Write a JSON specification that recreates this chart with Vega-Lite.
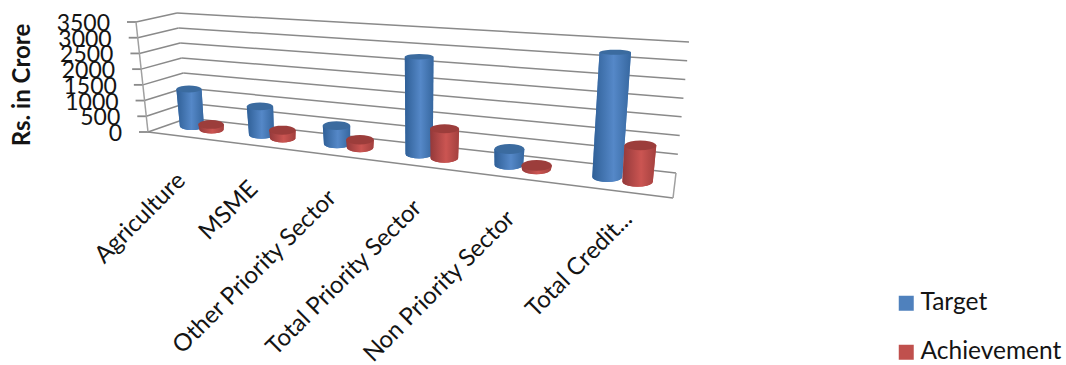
{
  "$schema": "https://vega.github.io/schema/vega-lite/v6.json",
  "width": 1066,
  "height": 365,
  "padding": 0,
  "autosize": {"type": "none"},
  "background": "white",
  "config": {"view": {"stroke": null}, "text": {"font": "Lato", "color": "#141414"}},
  "datasets": {
    "levels": [{"v": 0}, {"v": 500}, {"v": 1000}, {"v": 1500}, {"v": 2000}, {"v": 2500}, {"v": 3000}, {"v": 3500}],
    "credit": [
      {"cat": "Agriculture", "label": "Agriculture", "series": "Target", "value": 1190},
      {"cat": "Agriculture", "label": "Agriculture", "series": "Achievement", "value": 160},
      {"cat": "MSME", "label": "MSME", "series": "Target", "value": 880},
      {"cat": "MSME", "label": "MSME", "series": "Achievement", "value": 250},
      {"cat": "Other Priority Sector", "label": "Other Priority Sector", "series": "Target", "value": 550},
      {"cat": "Other Priority Sector", "label": "Other Priority Sector", "series": "Achievement", "value": 240},
      {"cat": "Total Priority Sector", "label": "Total Priority Sector", "series": "Target", "value": 2830},
      {"cat": "Total Priority Sector", "label": "Total Priority Sector", "series": "Achievement", "value": 845},
      {"cat": "Non Priority Sector", "label": "Non Priority Sector", "series": "Target", "value": 450},
      {"cat": "Non Priority Sector", "label": "Non Priority Sector", "series": "Achievement", "value": 110},
      {"cat": "Total Credit Deployment", "label": "Total Credit...", "series": "Target", "value": 3370},
      {"cat": "Total Credit Deployment", "label": "Total Credit...", "series": "Achievement", "value": 970}
    ]
  },
  "layer": [
    {
      "data": {"name": "levels"},
      "transform": [
        {"calculate": "datum.v / 3500", "as": "f"},
        {"calculate": "148 - 12 * datum.f", "as": "fx"},
        {"calculate": "132 - 110 * datum.f", "as": "fy"},
        {"calculate": "188 - 11 * datum.f", "as": "lx"},
        {"calculate": "118 - 105 * datum.f", "as": "ly"},
        {"calculate": "676 + 13 * datum.f", "as": "rx"},
        {"calculate": "173 - 131 * datum.f", "as": "ry"},
        {"calculate": "datum.fx - 9", "as": "tx"},
        {"calculate": "datum.fx - 26", "as": "labx"},
        {"calculate": "datum.fy + 2", "as": "laby"}
      ],
      "encoding": {
        "x": {"type": "quantitative", "scale": {"domain": [0, 1066]}, "axis": null},
        "y": {"type": "quantitative", "scale": {"domain": [365, 0]}, "axis": null}
      },
      "layer": [
        {
          "mark": {"type": "rule", "stroke": "#8a8a8a", "strokeWidth": 1.5},
          "encoding": {
            "x": {"field": "fx"}, "y": {"field": "fy"},
            "x2": {"field": "lx"}, "y2": {"field": "ly"}
          }
        },
        {
          "mark": {"type": "rule", "stroke": "#8a8a8a", "strokeWidth": 1.5},
          "encoding": {
            "x": {"field": "lx"}, "y": {"field": "ly"},
            "x2": {"field": "rx"}, "y2": {"field": "ry"}
          }
        },
        {
          "mark": {"type": "rule", "stroke": "#8a8a8a", "strokeWidth": 1.8},
          "encoding": {
            "x": {"field": "tx"}, "y": {"field": "fy"},
            "x2": {"field": "fx"}, "y2": {"field": "fy"}
          }
        },
        {
          "transform": [{"filter": "datum.v === 3500"}],
          "mark": {"type": "rule", "stroke": "#a0a0a0", "strokeWidth": 1.5},
          "encoding": {
            "x": {"field": "fx"}, "y": {"field": "fy"},
            "x2": {"datum": 148}, "y2": {"datum": 132}
          }
        },
        {
          "transform": [{"filter": "datum.v === 0"}],
          "layer": [
            {
              "mark": {"type": "rule", "stroke": "#8a8a8a", "strokeWidth": 1.5},
              "encoding": {
                "x": {"field": "fx"}, "y": {"field": "fy"},
                "x2": {"datum": 673}, "y2": {"datum": 198}
              }
            },
            {
              "mark": {"type": "rule", "stroke": "#a0a0a0", "strokeWidth": 1.5},
              "encoding": {
                "x": {"datum": 673}, "y": {"datum": 198},
                "x2": {"datum": 676}, "y2": {"datum": 173}
              }
            }
          ]
        },
        {
          "mark": {"type": "text", "align": "right", "baseline": "middle", "fontSize": 23},
          "encoding": {
            "x": {"field": "labx"}, "y": {"field": "laby"},
            "text": {"field": "v", "type": "nominal"}
          }
        }
      ]
    },
    {
      "data": {"name": "credit"},
      "transform": [
        {"calculate": "indexof(['Agriculture','MSME','Other Priority Sector','Total Priority Sector','Non Priority Sector','Total Credit Deployment'], datum.cat)", "as": "i"},
        {"calculate": "datum.series === 'Target' ? 0 : 1", "as": "s"},
        {"calculate": "(datum.i + 0.3 + 0.29 * datum.s) / 6", "as": "u"},
        {"calculate": "datum.u / (datum.u + 1.3 * (1 - datum.u))", "as": "p"},
        {"calculate": "172 + 510 * datum.p", "as": "xb"},
        {"calculate": "126 + 0.1226 * (datum.xb - 191) + datum.s", "as": "yb"},
        {"calculate": "datum.value * (108 + (datum.xb - 171) / 505 * 25) / 3500", "as": "h"},
        {"calculate": "datum.yb - datum.h", "as": "yt"},
        {"calculate": "datum.xb + (datum.xb - 419) * datum.h * 0.00034", "as": "xt"},
        {"calculate": "(24 + (datum.xb - 191) * 0.0144) / 2", "as": "rb"},
        {"calculate": "datum.rb * 1.05", "as": "rt"},
        {"calculate": "2.5 + (datum.yt - 50) * 0.025", "as": "capry"},
        {"calculate": "4 + (datum.xb - 191) * 0.0024", "as": "basery"}
      ],
      "encoding": {
        "x": {"type": "quantitative", "stack": null, "scale": {"domain": [0, 1066]}, "axis": null},
        "y": {"type": "quantitative", "stack": null, "scale": {"domain": [365, 0]}, "axis": null}
      },
      "layer": [
        {
          "transform": [
            {"calculate": "[-1, 0, 0.3, 0.6, 0.8, 0.95, 1]", "as": "t"},
            {"flatten": ["t"]},
            {"calculate": "datum.t < 0 ? datum.yt : datum.yb + datum.basery * datum.t", "as": "py"},
            {"calculate": "datum.t < 0 ? datum.rt : datum.rb * sqrt(1 - datum.t * datum.t)", "as": "half"},
            {"calculate": "datum.t < 0 ? datum.xt : datum.xb", "as": "c"},
            {"calculate": "datum.c - datum.half", "as": "x0"},
            {"calculate": "datum.c + datum.half", "as": "x1"}
          ],
          "layer": [
            {
              "mark": {"type": "area", "orient": "horizontal"},
              "encoding": {
                "x": {"field": "x0"}, "x2": {"field": "x1"}, "y": {"field": "py"},
                "detail": {"field": "cat"},
                "color": {
                  "field": "series", "type": "nominal",
                  "scale": {"domain": ["Target", "Achievement"], "range": ["#4f81bd", "#c0504d"]},
                  "legend": {
                    "title": null, "orient": "none", "legendX": 894, "legendY": 291,
                    "symbolType": "square", "symbolSize": 225, "symbolStrokeWidth": 0,
                    "labelFont": "Lato", "labelFontSize": 24.5, "labelColor": "#141414",
                    "labelOffset": 2, "rowPadding": 24
                  }
                }
              }
            },
            {
              "transform": [{"filter": "datum.s === 0"}],
              "mark": {
                "type": "area", "orient": "horizontal",
                "fill": {
                  "gradient": "linear", "x1": 0, "x2": 1, "y1": 0, "y2": 0,
                  "stops": [
                    {"offset": 0, "color": "#2f5f96"},
                    {"offset": 0.55, "color": "#5588c8"},
                    {"offset": 1, "color": "#36679f"}
                  ]
                }
              },
              "encoding": {
                "x": {"field": "x0"}, "x2": {"field": "x1"}, "y": {"field": "py"},
                "detail": {"field": "cat"}
              }
            },
            {
              "transform": [{"filter": "datum.s === 1"}],
              "mark": {
                "type": "area", "orient": "horizontal",
                "fill": {
                  "gradient": "linear", "x1": 0, "x2": 1, "y1": 0, "y2": 0,
                  "stops": [
                    {"offset": 0, "color": "#93393a"},
                    {"offset": 0.55, "color": "#cb5552"},
                    {"offset": 1, "color": "#a2403e"}
                  ]
                }
              },
              "encoding": {
                "x": {"field": "x0"}, "x2": {"field": "x1"}, "y": {"field": "py"},
                "detail": {"field": "cat"}
              }
            }
          ]
        },
        {
          "transform": [
            {"calculate": "[-1, -0.95, -0.8, -0.6, -0.3, 0, 0.3, 0.6, 0.8, 0.95, 1]", "as": "t"},
            {"flatten": ["t"]},
            {"calculate": "datum.yt + datum.capry * datum.t", "as": "py"},
            {"calculate": "datum.rt * sqrt(1 - datum.t * datum.t)", "as": "half"},
            {"calculate": "datum.xt - datum.half", "as": "x0"},
            {"calculate": "datum.xt + datum.half", "as": "x1"}
          ],
          "mark": {"type": "area", "orient": "horizontal"},
          "encoding": {
            "x": {"field": "x0"}, "x2": {"field": "x1"}, "y": {"field": "py"},
            "detail": {"field": "cat"},
            "fill": {
              "field": "series", "type": "nominal",
              "scale": {"domain": ["Target", "Achievement"], "range": ["#3b6b9f", "#9c3d3b"]},
              "legend": null
            }
          }
        },
        {
          "transform": [
            {"filter": "datum.s === 0"},
            {"calculate": "(datum.i + 0.5) / 6", "as": "uc"},
            {"calculate": "datum.uc / (datum.uc + 1.3 * (1 - datum.uc))", "as": "pc"},
            {"calculate": "148 + 515 * datum.pc + datum.i + (datum.i === 5 ? 15 : 0)", "as": "lx"},
            {"calculate": "177.5 + 0.115 * (datum.lx - 185) - (datum.i === 5 ? 13 : 0)", "as": "ly"}
          ],
          "mark": {"type": "text", "align": "right", "baseline": "middle", "angle": 315, "fontSize": 24},
          "encoding": {
            "x": {"field": "lx"}, "y": {"field": "ly"},
            "text": {"field": "label", "type": "nominal"}
          }
        }
      ]
    },
    {
      "data": {"values": [{"title": "Rs. in Crore", "px": 23, "py": 85}]},
      "mark": {"type": "text", "angle": 270, "fontSize": 24, "fontWeight": "bold", "align": "center", "baseline": "middle"},
      "encoding": {
        "x": {"field": "px", "type": "quantitative", "scale": {"domain": [0, 1066]}, "axis": null},
        "y": {"field": "py", "type": "quantitative", "scale": {"domain": [365, 0]}, "axis": null},
        "text": {"field": "title", "type": "nominal"}
      }
    }
  ]
}
